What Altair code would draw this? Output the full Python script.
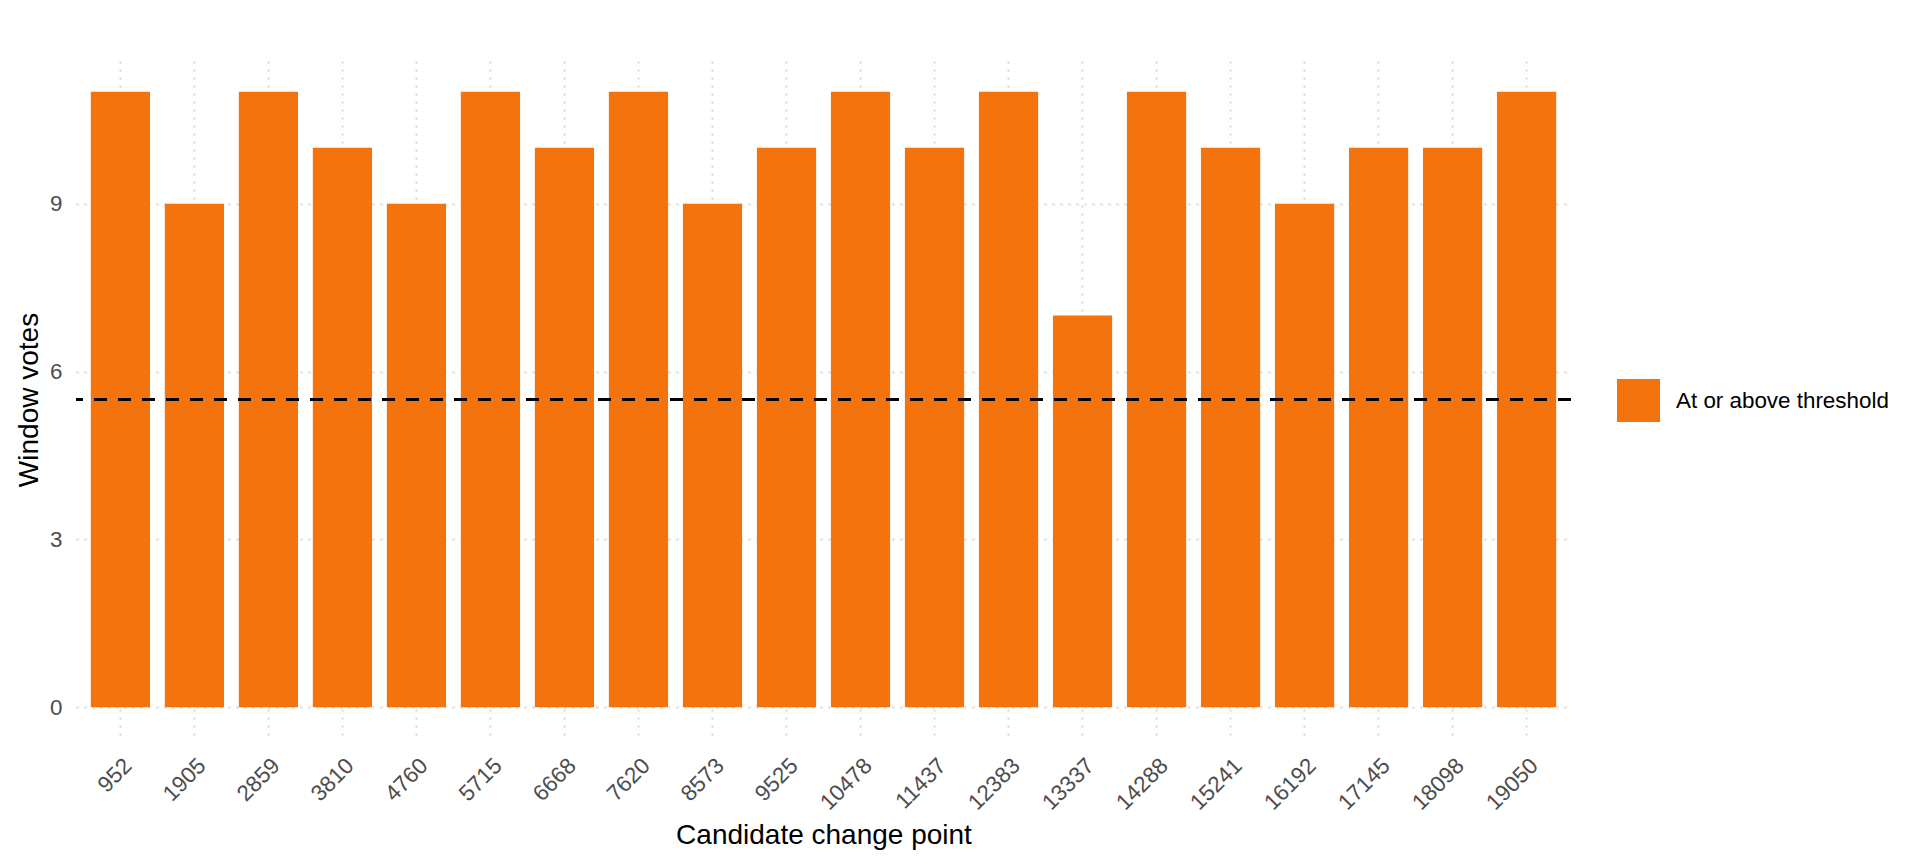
import altair as alt
import pandas as pd

candidates = ["952", "1905", "2859", "3810", "4760", "5715", "6668", "7620", "8573", "9525",
              "10478", "11437", "12383", "13337", "14288", "15241", "16192", "17145", "18098", "19050"]
votes = [11, 9, 11, 10, 9, 11, 10, 11, 9, 10, 11, 10, 11, 7, 11, 10, 9, 10, 10, 11]
status_label = "At or above threshold"
threshold = 5.5
y_ticks = [0, 3, 6, 9]
y_domain = [-0.55, 11.55]

BAR = "#F5730C"
FONT = "Liberation Sans"

df = pd.DataFrame({
    "cp": candidates,
    "votes": votes,
    "status": [status_label] * len(candidates),
})
thr = pd.DataFrame({"t": [threshold]})

W, H = 1495, 677

bars = alt.Chart(df).mark_bar(color=BAR).encode(
    x=alt.X("cp:N", sort=candidates,
            scale=alt.Scale(paddingInner=0.2, paddingOuter=0.2),
            axis=alt.Axis(title="Candidate change point", labelAngle=315, labelAlign="right",
                          labelBaseline="top", labelPadding=16, ticks=False, domain=False,
                          grid=True, bandPosition=0.5,
                          titleX=W / 2, titleY=105, titleAlign="center",
                          titleBaseline="alphabetic")),
    y=alt.Y("votes:Q", scale=alt.Scale(domain=y_domain, nice=False, zero=False),
            axis=alt.Axis(title="Window votes", values=y_ticks, ticks=False, domain=False,
                          labelPadding=14, grid=True, titleAngle=270, titleX=-39,
                          titleY=H / 2, titleAlign="center", titleBaseline="alphabetic")),
    y2=alt.datum(0),
    color=alt.Color("status:N", scale=alt.Scale(range=[BAR]),
                    legend=alt.Legend(title=None, orient="none", legendX=1541, legendY=318,
                                      symbolType="square", symbolSize=1849,
                                      symbolStrokeWidth=0, labelOffset=16, padding=0,
                                      labelFontSize=22.4, labelColor="#000000",
                                      labelFont=FONT, labelLimit=500)),
)

rule = alt.Chart(thr).mark_rule(color="#000000", strokeWidth=3, strokeDash=[13, 11]).encode(
    y="t:Q"
)

chart = alt.layer(bars, rule).properties(
    width=W, height=H,
    autosize=alt.AutoSizeParams(type="none"),
    padding={"left": 68, "top": 53, "right": 341, "bottom": 118},
).configure_view(stroke=None).configure_axis(
    labelFont=FONT, titleFont=FONT, labelFontSize=22.4, titleFontSize=28,
    labelColor="#4D4D4D", titleColor="#000000", titleFontWeight="normal",
    gridColor="#D6D6D6", gridDash=[2, 6], gridWidth=2,
)

chart.save("out.html", embed_options={"renderer": "svg", "actions": False})
